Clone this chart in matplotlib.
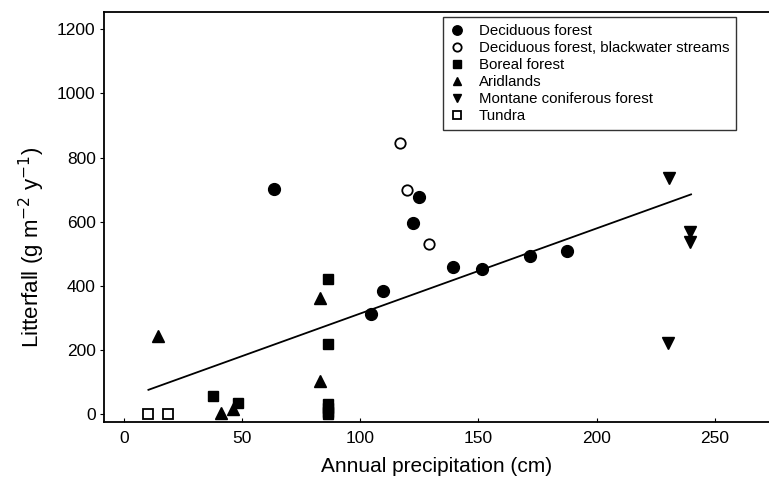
import matplotlib
matplotlib.use("Agg")
import matplotlib.pyplot as plt
import numpy as np

plt.rcParams['font.family'] = ['Liberation Sans', 'DejaVu Sans']

dec_x = [63.5, 124.8, 122.4, 109.5, 104.5, 139.3, 151.3, 171.7, 187.7]
dec_y = [702, 676, 597, 385, 313, 460, 452, 493, 509]
black_x = [116.8, 119.6, 129.2]
black_y = [845, 699, 531]
boreal_x = [37.5, 48.1, 86.4, 86.4, 86.4, 86.4, 86.4, 86.4]
boreal_y = [58, 34, 421, 218, 32, 20, 8, 0]
arid_x = [14.5, 41.0, 46.2, 82.9, 82.9]
arid_y = [244, 3, 16, 361, 105]
mont_x = [230.5, 239.7, 239.7, 230.2]
mont_y = [736, 569, 538, 221]
tundra_x = [10.3, 18.5]
tundra_y = [0, 0]

fit_x = [10.3, 240.0]
fit_slope = 2.652
fit_icpt = 49.0

fig = plt.figure(figsize=(7.69, 4.87), dpi=100)
ax = fig.add_axes([104 / 769, 1 - 421.7 / 487, 1 - 104 / 769, (421.7 - 12.3) / 487])

ax.plot(dec_x, dec_y, 'o', color='black', ms=8.5, ls='none', label='Deciduous forest')
ax.plot(black_x, black_y, 'o', mfc='white', mec='black', mew=1.3, ms=7.5, ls='none',
        label='Deciduous forest, blackwater streams')
ax.plot(boreal_x, boreal_y, 's', color='black', ms=7, ls='none', label='Boreal forest')
ax.plot(arid_x, arid_y, '^', color='black', ms=8, ls='none', label='Aridlands')
ax.plot(mont_x, mont_y, 'v', color='black', ms=8, ls='none', label='Montane coniferous forest')
ax.plot(tundra_x, tundra_y, 's', mfc='white', mec='black', mew=1.3, ms=7, ls='none', label='Tundra')

fx = np.array(fit_x)
ax.plot(fx, fit_icpt + fit_slope * fx, color='black', lw=1.3)

ax.set_xlim(-8.5, 273)
ax.set_ylim(-23, 1253)
ax.set_xticks([0, 50, 100, 150, 200, 250])
ax.set_yticks([0, 200, 400, 600, 800, 1000, 1200])
ax.tick_params(axis='both', labelsize=12.5, color='black')
ax.tick_params(axis='x', direction='in', length=3, pad=7)
ax.tick_params(axis='y', direction='out', length=3, pad=3)
ax.spines['right'].set_visible(False)
for s in ['left', 'bottom', 'top']:
    ax.spines[s].set_linewidth(1.3)

ax.set_xlabel('Annual precipitation (cm)', fontsize=15)
ax.set_ylabel('Litterfall (g m$^{-2}$ y$^{-1}$)', fontsize=16)
ax.xaxis.set_label_coords(0.5, -0.11)
ax.yaxis.set_label_coords(-0.108, 0.427)
ax.xaxis.label.set_va('center')
ax.yaxis.label.set_va('center')

leg = ax.legend(loc='upper left', bbox_to_anchor=((443.3 - 104) / 665, 1 - (17.3 - 12.3) / 409.4),
                fontsize=10.8, frameon=True, fancybox=False, edgecolor='black',
                handlelength=0.9, handletextpad=1.0, labelspacing=0.2,
                borderpad=0.45, borderaxespad=0, markerscale=0.8)
leg.get_frame().set_linewidth(1.0)

fig.savefig('out.png', dpi=100)
